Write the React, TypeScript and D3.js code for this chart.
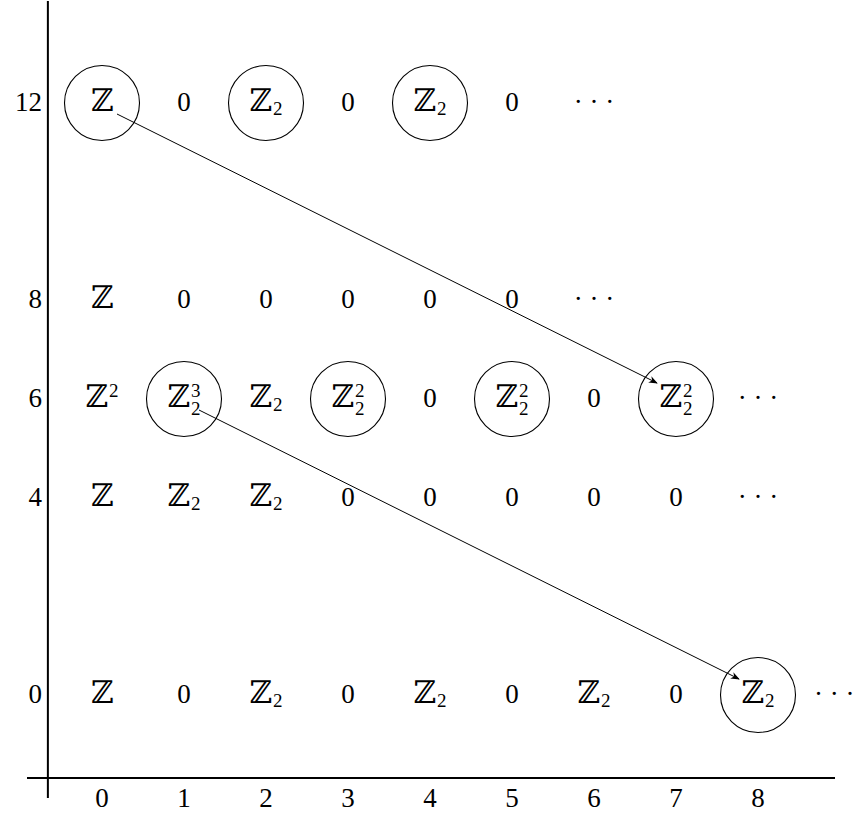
import React from "react";
import * as d3 from "d3";

// Spectral-sequence style grid: rows are degrees, columns are filtration
const rowDegrees = [12, 8, 6, 4, 0];
const colTicks = [0, 1, 2, 3, 4, 5, 6, 7, 8];

const row12 = ["Z", "0", "Z_2", "0", "Z_2", "0"];
const row8 = ["Z", "0", "0", "0", "0", "0"];
const row6 = ["Z^2", "Z_2^3", "Z_2", "Z_2^2", "0", "Z_2^2", "0", "Z_2^2"];
const row4 = ["Z", "Z_2", "Z_2", "0", "0", "0", "0", "0"];
const row0 = ["Z", "0", "Z_2", "0", "Z_2", "0", "Z_2", "0", "Z_2"];

const rowEntries = [row12, row8, row6, row4, row0];
const circled = [[0, 2, 4], [], [1, 3, 5, 7], [], [8]];
const dotsAt = [6, 6, 8, 8, 8.93];

const arrows = [
  { from: [0, 12], to: [7, 6] },
  { from: [1, 6], to: [8, 0] },
];

const W = 854, H = 820;
const FONT = "'Liberation Serif', 'DejaVu Serif', serif";
const ZFONT = "'DejaVu Serif', serif";
const SIZE = 27;
const ZSIZE = 31;
const SMALL = 19;

const x = d3.scaleLinear().domain([0, 8]).range([102, 758]);
const y = d3.scaleLinear().domain([0, 12]).range([695, 103]);

function parse(s: string) {
  const m = s.match(/^(Z|0)(?:_(\d))?(?:\^(\d))?$/);
  if (!m) return { base: s, sub: "", sup: "" };
  return { base: m[1], sub: m[2] || "", sup: m[3] || "" };
}

function Entry({ cx, cy, s }: { cx: number; cy: number; s: string }) {
  const { base, sub, sup } = parse(s);
  const baseline = cy + 8;
  const isZ = base === "Z";
  const glyph = isZ ? "ℤ" : base;
  const fam = isZ ? ZFONT : FONT;
  const size = isZ ? ZSIZE : SIZE;
  if (!sub && !sup) {
    return <text x={cx} y={baseline} textAnchor="middle" fontFamily={fam} fontSize={size}>{glyph}</text>;
  }
  // base ~22 wide, script ~10 wide -> split point keeps the whole centred
  const split = cx + 6;
  return (
    <g>
      <text x={split} y={baseline} textAnchor="end" fontFamily={fam} fontSize={size}>{glyph}</text>
      {sup && (
        <text x={split + 1} y={baseline - 10} fontFamily={FONT} fontSize={SMALL}>{sup}</text>
      )}
      {sub && (
        <text x={split + 1} y={baseline + (sup ? 8 : 4)} fontFamily={FONT} fontSize={SMALL}>{sub}</text>
      )}
    </g>
  );
}

export default function App() {
  const axisY = y(-1.68);
  const axisX = x(-0.66);

  return (
    <svg width={W} height={H} style={{ position: "absolute", left: 0, top: 0, background: "#fff" }}>
      <defs>
        <marker id="head" viewBox="0 0 10 10" refX="9" refY="5" markerWidth="9" markerHeight="9"
          markerUnits="userSpaceOnUse" orient="auto">
          <path d="M0,1 L10,5 L0,9 L3,5 Z" fill="#000" />
        </marker>
      </defs>

      {/* axes */}
      <line x1={axisX} x2={axisX} y1={1} y2={798} stroke="#000" strokeWidth={2} />
      <line x1={27} x2={835} y1={axisY} y2={axisY} stroke="#000" strokeWidth={2} />

      {rowDegrees.map(d => (
        <text key={"yt" + d} x={42} y={y(d) + 8} textAnchor="end" fontFamily={FONT} fontSize={SIZE}>{d}</text>
      ))}
      {colTicks.map(c => (
        <text key={"xt" + c} x={x(c)} y={axisY + 29} textAnchor="middle" fontFamily={FONT} fontSize={SIZE}>{c}</text>
      ))}

      {rowEntries.map((entries, r) => (
        <g key={"row" + r}>
          {entries.map((s, c) => (
            <Entry key={c} cx={x(c)} cy={y(rowDegrees[r])} s={s} />
          ))}
          {circled[r].map(c => (
            <circle key={"c" + c} cx={x(c)} cy={y(rowDegrees[r])} r={37.5} fill="none" stroke="#000" strokeWidth={1.1} />
          ))}
          <text x={x(dotsAt[r])} y={y(rowDegrees[r]) + 8} textAnchor="middle" fontFamily={FONT}
            fontSize={SIZE}>· · ·</text>
        </g>
      ))}

      {arrows.map((a, i) => (
        <line key={"a" + i}
          x1={x(a.from[0]) + 15} y1={y(a.from[1]) + 11}
          x2={x(a.to[0]) - 19} y2={y(a.to[1]) - 16}
          stroke="#000" strokeWidth={1} markerEnd="url(#head)" />
      ))}
    </svg>
  );
}
